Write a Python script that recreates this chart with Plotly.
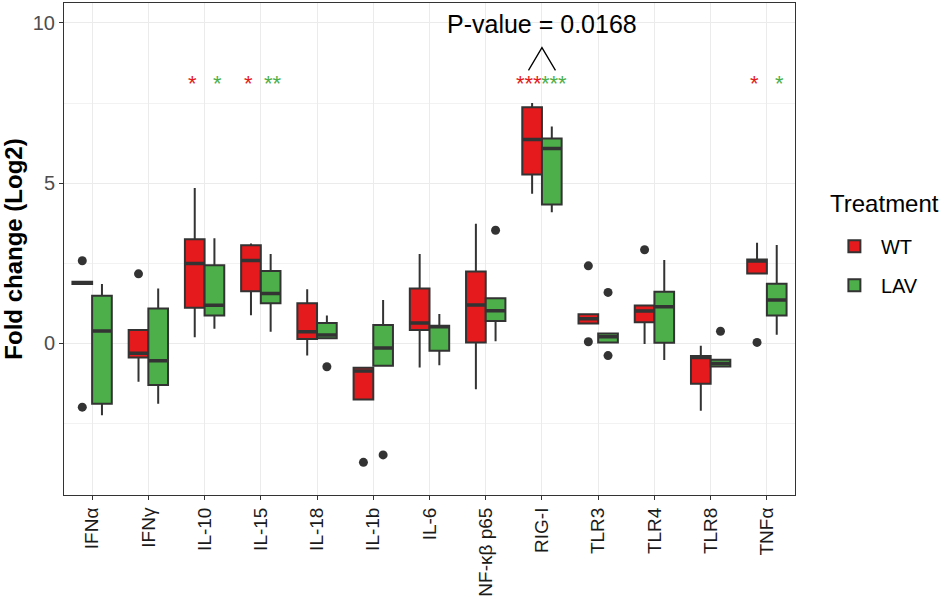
import plotly.graph_objects as go

genes = ["IFNα", "IFNγ", "IL-10", "IL-15", "IL-18", "IL-1b", "IL-6",
         "NF-κβ p65", "RIG-I", "TLR3", "TLR4", "TLR8", "TNFα"]

# box stats (log2 fold change)
wt_q1 = [1.85, -0.44, 1.11, 1.63, 0.14, -1.75, 0.42, 0.03, 5.27, 0.62, 0.66, -1.26, 2.18]
wt_med = [1.88, -0.31, 2.49, 2.59, 0.36, -0.86, 0.64, 1.20, 6.36, 0.77, 1.01, -0.44, 2.57]
wt_q3 = [1.92, 0.42, 3.25, 3.06, 1.25, -0.76, 1.71, 2.24, 7.37, 0.91, 1.18, -0.39, 2.62]
wt_lo = [1.85, -1.20, 0.19, 0.88, -0.38, -1.75, -0.75, -1.43, 4.67, 0.62, -0.02, -2.10, 2.18]
wt_hi = [1.92, 0.42, 4.85, 3.12, 1.69, -0.76, 2.79, 3.73, 7.50, 0.91, 1.18, -0.07, 3.14]

lav_q1 = [-1.88, -1.30, 0.87, 1.25, 0.16, -0.70, -0.23, 0.70, 4.33, 0.03, 0.02, -0.72, 0.87]
lav_med = [0.39, -0.54, 1.19, 1.56, 0.26, -0.14, 0.52, 1.02, 6.08, 0.21, 1.14, -0.63, 1.35]
lav_q3 = [1.49, 1.09, 2.44, 2.26, 0.64, 0.57, 0.55, 1.41, 6.39, 0.31, 1.61, -0.51, 1.86]
lav_lo = [-2.24, -1.88, 0.46, 0.36, 0.16, -0.70, -0.68, 0.07, 4.09, 0.03, -0.52, -0.72, 0.27]
lav_hi = [1.85, 1.71, 3.28, 2.79, 0.87, 1.35, 0.92, 1.41, 6.77, 0.31, 2.60, -0.51, 3.07]

# outliers
wt_out_gene = ["IFNα", "IFNα", "IFNγ", "IL-1b", "TLR3", "TLR3", "TLR4", "TNFα"]
wt_out_val = [2.58, -1.99, 2.17, -3.71, 2.42, 0.05, 2.92, 0.03]
lav_out_gene = ["IL-18", "IL-1b", "NF-κβ p65", "TLR3", "TLR3", "TLR8"]
lav_out_val = [-0.73, -3.48, 3.53, 1.59, -0.38, 0.38]

# significance marks
wt_sig = ["", "", "*", "*", "", "", "", "", "***", "", "", "", "*"]
lav_sig = ["", "", "*", "**", "", "", "", "", "***", "", "", "", "*"]
star_y = 8.1

RED = "#E41A1C"
GREEN = "#4DAF4A"
DARK = "#333333"
FONT = "Liberation Sans, Arial, sans-serif"

fig = go.Figure()

groups = [
    ("WT", RED, wt_q1, wt_med, wt_q3, wt_lo, wt_hi, wt_out_gene, wt_out_val, wt_sig, -12.5),
    ("LAV", GREEN, lav_q1, lav_med, lav_q3, lav_lo, lav_hi, lav_out_gene, lav_out_val, lav_sig, 12.5),
]

for name, col, q1, med, q3, lo, hi, og, ov, sig, shift in groups:
    fig.add_trace(go.Box(
        name=name, x=genes, q1=q1, median=med, q3=q3,
        lowerfence=lo, upperfence=hi,
        fillcolor=col, line=dict(color=DARK, width=2),
        whiskerwidth=0, offsetgroup=name, legendgroup=name, boxpoints=False,
    ))
    # thicker median bar, as ggplot draws it
    fig.add_trace(go.Box(
        name=name, x=genes, q1=med, median=med, q3=med,
        lowerfence=med, upperfence=med,
        fillcolor=DARK, line=dict(color=DARK, width=3.5),
        offsetgroup=name, legendgroup=name, showlegend=False,
        boxpoints=False, hoverinfo="skip",
    ))
    fig.add_trace(go.Scatter(
        x=og, y=ov, mode="markers", offsetgroup=name, showlegend=False,
        marker=dict(color=DARK, size=9), hoverinfo="skip",
    ))
    for g, s in zip(genes, sig):
        if s:
            fig.add_annotation(x=g, y=star_y, text=s, showarrow=False, xshift=shift,
                               font=dict(color=col, size=22, family=FONT))

# bracket between the RIG-I groups
rig = genes.index("RIG-I")
fig.add_shape(type="path",
              path=f"M {rig - 0.24},8.52 L {rig},9.23 L {rig + 0.24},8.52",
              line=dict(color="black", width=1.3))
fig.add_annotation(x="RIG-I", y=9.98, text="P-value = 0.0168", showarrow=False,
                   font=dict(size=25, color="black", family=FONT))

# legend title as its own text so the gap below it matches
fig.add_annotation(xref="paper", yref="paper", x=1.045, y=0.593, xanchor="left",
                   yanchor="middle", text="Treatment", showarrow=False,
                   font=dict(size=24, color="black", family=FONT))

fig.update_layout(
    width=945, height=599,
    paper_bgcolor="white", plot_bgcolor="white",
    margin=dict(l=64, r=150, t=3, b=104),
    boxmode="group", boxgap=0.3, boxgroupgap=0,
    scattermode="group", scattergap=0.3,
    font=dict(family=FONT),
    legend=dict(
        font=dict(size=20, color="black"),
        x=1.045, xanchor="left", y=0.545, yanchor="top",
        traceorder="grouped", tracegroupgap=10, itemwidth=43,
    ),
)
fig.update_xaxes(
    showgrid=True, gridcolor="#EBEBEB", gridwidth=1.2,
    showline=True, linecolor=DARK, linewidth=1, mirror=True,
    ticks="outside", ticklen=4, tickcolor=DARK,
    tickangle=-90, tickfont=dict(size=19, color="#1A1A1A"),
    automargin=False,
)
fig.update_yaxes(
    range=[-4.73, 10.62], tickvals=[0, 5, 10], zeroline=False,
    showgrid=True, gridcolor="#EBEBEB", gridwidth=1.2,
    minor=dict(tickvals=[-2.5, 2.5, 7.5], showgrid=True, gridcolor="#F2F2F2", gridwidth=0.8),
    showline=True, linecolor=DARK, linewidth=1, mirror=True,
    ticks="outside", ticklen=4, tickcolor=DARK,
    tickfont=dict(size=20, color="#4D4D4D"),
    title=dict(text="<b>Fold change (Log2)</b>", font=dict(size=24, color="black"), standoff=12),
    automargin=False,
)

fig.write_html("out.html", config={"displayModeBar": False},
               post_script="document.body.style.margin='0';")
